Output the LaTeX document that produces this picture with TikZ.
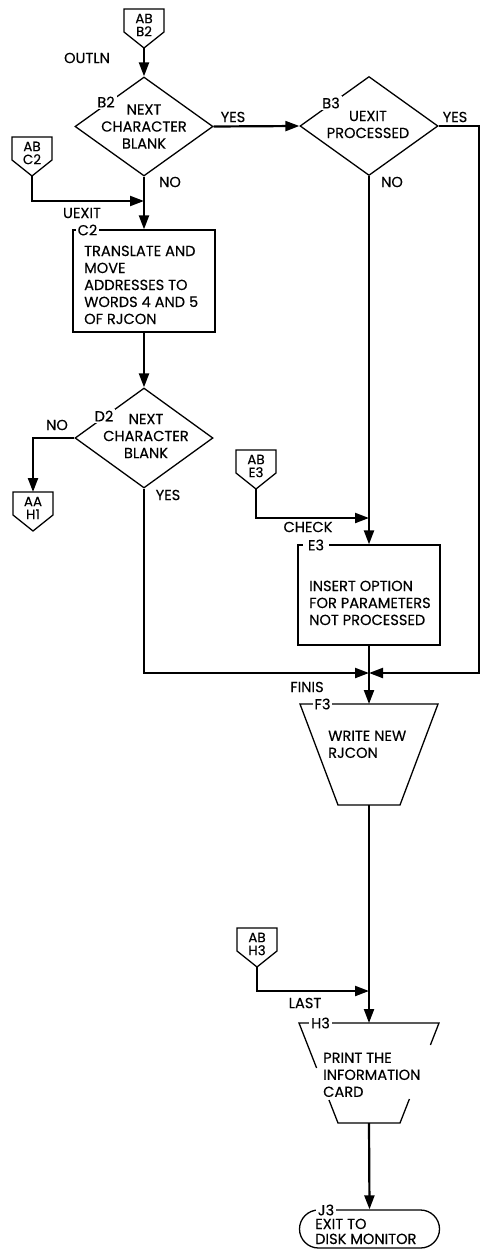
\documentclass[tikz,border=0pt]{standalone}
\usepackage{fontspec}
\newfontfamily\flfam{Poppins}[FakeBold=0.25]
\usetikzlibrary{arrows.meta,shapes.geometric}
\newcommand\flfont{\flfam\fontsize{14.6}{17}\selectfont}
\newcommand\cnfont{\flfam\fontsize{13.5}{13}\selectfont}
\tikzset{
  flow/.style={line width=2.2pt, -{Triangle[length=14pt,width=10pt]}},
  outline/.style={draw, line width=1.3pt},
  dia/.style={diamond, outline, minimum width=138pt, minimum height=99pt, inner sep=0pt},
  procbox/.style={rectangle, outline, inner sep=0pt},
  txt/.style={font=\flfont, inner sep=0pt, align=left},
  txtc/.style={font=\flfont, inner sep=0pt, align=center},
  lbl/.style={font=\flfont, inner sep=0pt},
  tag/.style={font=\flfont, fill=white, inner xsep=2pt, inner ysep=2pt},
  ctext/.style={font=\cnfont, inner sep=0pt, align=center},
}
\newcommand\offpage[4]{%
  \coordinate (#1-in) at (#2,#3);
  \coordinate (#1-out) at (#2,#3+39);
  \draw[outline] (#2-20,#3) -- (#2+20,#3) -- (#2+20,#3+23) -- (#1-out) -- (#2-20,#3+23) -- cycle;
  \node[ctext] (#1) at (#2,#3+16) {#4};
}
\begin{document}
\begin{tikzpicture}[x=1pt,y=-1pt]
\useasboundingbox (0,0) rectangle (481,1252);

% off-page connectors
\offpage{abb2}{144}{9}{AB\\B2}
\offpage{abc2}{32}{137}{AB\\C2}
\offpage{aah1}{33}{492}{AA\\H1}
\offpage{abe3}{256}{450}{AB\\E3}
\offpage{abh3}{257}{928}{AB\\H3}

% decisions
\node[dia] (b2) at (144,126.5) {};
\node[txtc] (b2t) at (144,126.5) {NEXT\\CHARACTER\\BLANK};
\node[tag] (b2l) at (106,102) {B2};

\node[dia] (b3) at (369,126) {};
\node[txtc] (b3t) at (368,124.5) {UEXIT\\PROCESSED};
\node[tag] (b3l) at (331,103) {B3};

\node[dia, minimum height=100pt] (d2) at (144,438) {};
\node[txtc] (d2t) at (146,436) {NEXT\\CHARACTER\\BLANK};
\node[tag] (d2l) at (104,416) {D2};

% process boxes
\node[procbox, minimum width=142pt, minimum height=102pt] (c2) at (144,281) {};
\node[txt, anchor=north west] (c2t) at (84,245.5) {TRANSLATE AND\\MOVE\\ADDRESSES TO\\WORDS 4 AND 5\\OF RJCON};
\node[tag] (c2l) at (87.5,230) {C2};

\node[procbox, minimum width=142pt, minimum height=100pt] (e3) at (369,595) {};
\node[txt, anchor=north west] (e3t) at (309,580.5) {INSERT OPTION\\FOR PARAMETERS\\NOT PROCESSED};
\node[tag, inner xsep=5pt] (e3l) at (316,545) {E3};

% manual operation F3
\coordinate (f3-top) at (369,704);
\coordinate (f3-bot) at (369,805);
\draw[outline] (300,704) -- (438,704) -- (400,805) -- (338,805) -- cycle;
\node[txt, anchor=north west] (f3t) at (328,730.5) {WRITE NEW\\RJCON};
\node[tag] (f3l) at (322.5,704) {F3};

% manual operation H3 (sides broken)
\coordinate (h3-top) at (369,1023);
\coordinate (h3-bot) at (369,1123);
\draw[outline] (316.6,1068) -- (299,1023) -- (439,1023) -- (430.4,1045);
\draw[outline] (409.4,1099) -- (400,1123) -- (338,1123) -- (329,1100);
\node[txt, anchor=north west] (h3t) at (323,1052.5) {PRINT THE\\INFORMATION\\CARD};
\node[tag] (h3l) at (320.5,1023) {H3};

% terminal J3
\node[rectangle, outline, rounded corners=19pt, minimum width=140pt, minimum height=38pt, inner sep=0pt] (j3) at (369.5,1229) {};
\node[txt, anchor=north west, font=\flfam\fontsize{14.6}{15}\selectfont] (j3t) at (315,1218.5) {EXIT TO\\DISK MONITOR};
\node[tag] (j3l) at (326,1210) {J3};

% free labels
\node[lbl] (outln) at (87,58) {OUTLN};
\node[lbl] (yes1) at (233,117) {YES};
\node[lbl] (yes2) at (455,117) {YES};
\node[lbl] (no1) at (170,182) {NO};
\node[lbl] (no2) at (392,182) {NO};
\node[lbl] (uexit) at (82,213) {UEXIT};
\node[lbl] (no3) at (57,425) {NO};
\node[lbl] (yes3) at (168,495) {YES};
\node[lbl] (check) at (308,527) {CHECK};
\node[lbl] (finis) at (307,687) {FINIS};
\node[lbl] (last) at (305,1003) {LAST};

% junction points
\coordinate (j1) at (144,201);
\coordinate (jf) at (369,673);
\coordinate (rc) at (479,673);
\coordinate (je) at (369,518);
\coordinate (jh) at (369,991);

% connectors
\draw[flow] (abb2-out) -- (b2.north);
\draw[flow] (b2.east) -- (b3.west);
\draw[flow] (b2.south) -- (c2.north);
\draw[flow] (abc2-out) |- (j1);
\draw[flow] (c2.south) -- (d2.north);
\draw[flow] (d2.west) -| (aah1-in);
\draw[flow] (d2.south) |- (jf);
\draw[flow] (b3.east) -| (rc) -- (jf);
\draw[flow] (b3.south) -- (e3.north);
\draw[flow] (abe3-out) |- (je);
\draw[flow] (e3.south) -- (f3-top);
\draw[flow] (f3-bot) -- (h3-top);
\draw[flow] (abh3-out) |- (jh);
\draw[flow] (h3-bot) -- (j3.north);
\end{tikzpicture}
\end{document}
